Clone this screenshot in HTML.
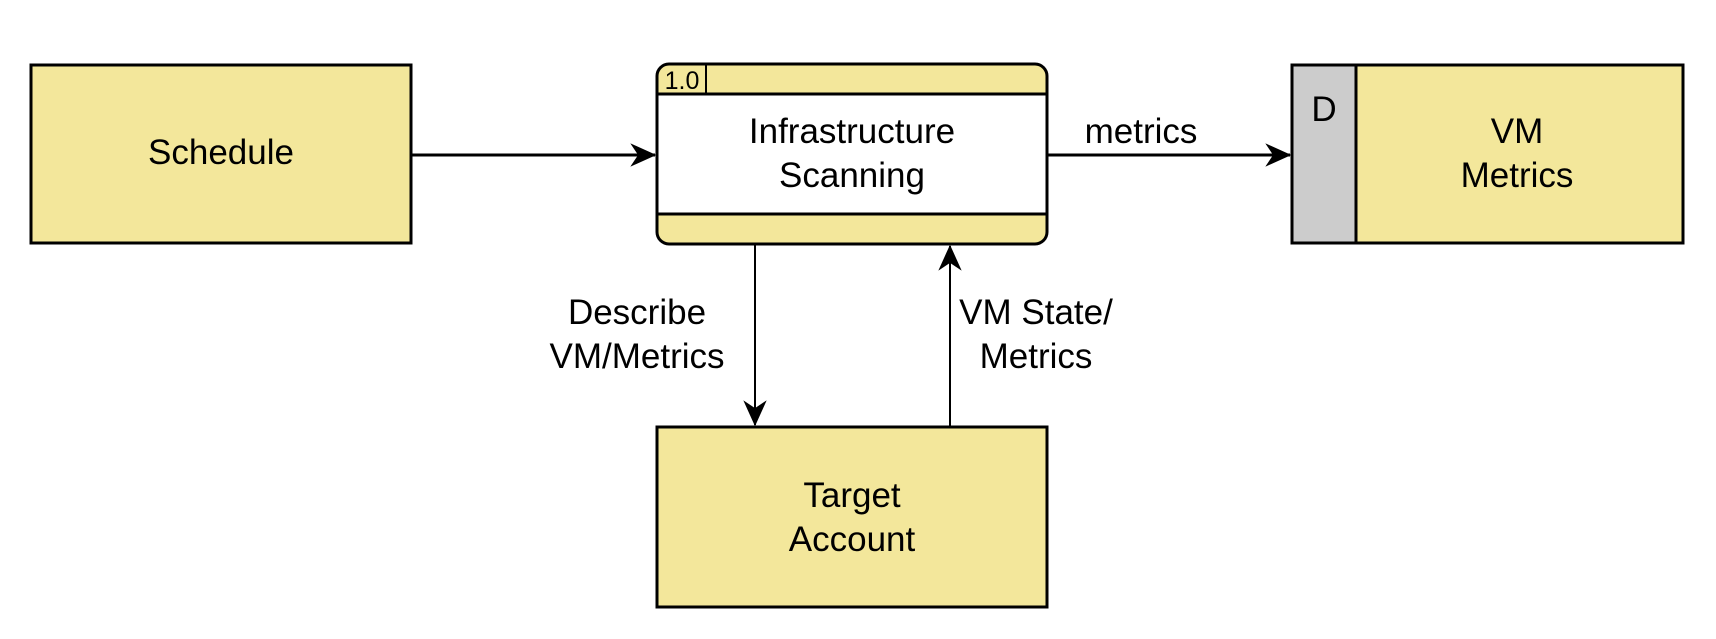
<!DOCTYPE html>
<html><head><meta charset="utf-8"><style>
html,body{margin:0;padding:0;background:#fff;}
svg{display:block}
text{font-family:"Liberation Sans",Arial,sans-serif;font-size:35px;fill:#000;text-anchor:middle}
</style></head><body>
<svg width="1716" height="639" viewBox="0 0 1716 639" xmlns="http://www.w3.org/2000/svg">
<defs>
<marker id="b" viewBox="0 0 20 20" refX="19" refY="10" markerWidth="26" markerHeight="26" markerUnits="userSpaceOnUse" orient="auto">
<path d="M0,1 L20,10 L0,19 L6,10 Z" fill="#000"/>
</marker>
</defs>
<!-- Schedule -->
<rect x="31" y="65" width="380" height="178" fill="#f3e79b" stroke="#000" stroke-width="3"/>
<text x="221" y="164">Schedule</text>
<!-- Process -->
<rect x="657" y="64" width="390" height="180" rx="12" fill="#f3e79b" stroke="#000" stroke-width="3"/>
<rect x="657" y="94" width="390" height="120" fill="#fff" stroke="#000" stroke-width="3"/>
<line x1="706" y1="64" x2="706" y2="94" stroke="#000" stroke-width="2"/>
<text x="682" y="89" style="font-size:25px">1.0</text>
<text x="852" y="143">Infrastructure</text>
<text x="852" y="187">Scanning</text>
<!-- Store -->
<rect x="1292" y="65" width="391" height="178" fill="#f3e79b" stroke="#000" stroke-width="3"/>
<rect x="1292" y="65" width="64" height="178" fill="#cccccc" stroke="#000" stroke-width="3"/>
<text x="1324" y="121">D</text>
<text x="1517" y="143">VM</text>
<text x="1517" y="187">Metrics</text>
<!-- Target -->
<rect x="657" y="427" width="390" height="180" fill="#f3e79b" stroke="#000" stroke-width="3"/>
<text x="852" y="507">Target</text>
<text x="852" y="551">Account</text>
<!-- arrows -->
<line x1="411" y1="155" x2="655" y2="155" stroke="#000" stroke-width="3" marker-end="url(#b)"/>
<line x1="1047" y1="155" x2="1290" y2="155" stroke="#000" stroke-width="3" marker-end="url(#b)"/>
<text x="1141" y="143">metrics</text>
<line x1="755" y1="245" x2="755" y2="425" stroke="#000" stroke-width="2" marker-end="url(#b)"/>
<line x1="950" y1="427" x2="950" y2="246" stroke="#000" stroke-width="2" marker-end="url(#b)"/>
<text x="637" y="324">Describe</text>
<text x="637" y="368">VM/Metrics</text>
<text x="1036" y="324">VM State/</text>
<text x="1036" y="368">Metrics</text>
</svg>
</body></html>
